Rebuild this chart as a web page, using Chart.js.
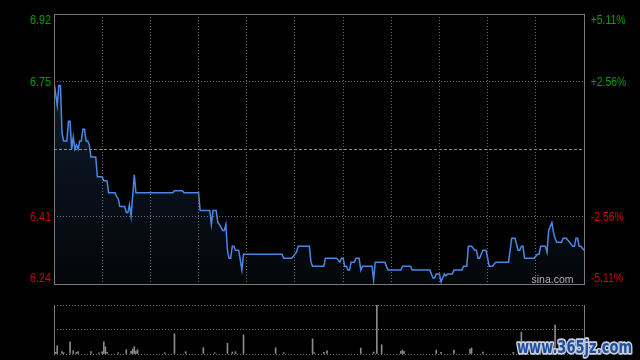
<!DOCTYPE html>
<html><head><meta charset="utf-8">
<script src="https://cdn.jsdelivr.net/npm/chart.js@4"></script>
<style>
html,body{margin:0;padding:0;background:#000;}
#wrap{position:relative;width:640px;height:360px;background:#000;overflow:hidden}
#c1{position:absolute;left:0;top:0}
#c2{position:absolute;left:0;top:300px}
</style></head><body>
<div id="wrap"><canvas id="c1" width="640" height="300"></canvas><canvas id="c2" width="640" height="60"></canvas></div>
<script>
// minutes since the open (HK session, 330 trading minutes) and price at each vertex
const minutes = [0,2,3,4,5,6,8,9,10,11,12,13,14,15,16,17,18,19,20,21,22,23,26,27,30,31,33,34,38,39,40,41,44,45,46,47,48,50,51,74,75,80,81,90,91,97,98,99,101,102,103,105,106,107,108,109,110,111,112,113,115,117,118,142,143,148,150,151,152,159,160,161,168,169,176,178,179,180,181,182,183,184,185,187,188,190,191,192,198,199,200,206,208,216,217,222,223,234,236,237,238,240,241,242,243,244,245,248,249,254,255,257,258,260,262,263,264,265,267,269,271,273,275,283,285,287,289,290,291,292,293,299,301,302,303,306,307,308,309,310,311,312,313,316,317,319,321,323,324,325,326,327,328,330];
const prices = [6.75,6.69,6.74,6.74,6.62,6.60,6.60,6.65,6.65,6.58,6.61,6.58,6.59,6.58,6.60,6.60,6.63,6.63,6.60,6.60,6.59,6.56,6.56,6.51,6.51,6.50,6.50,6.47,6.47,6.46,6.455,6.435,6.435,6.42,6.42,6.44,6.41,6.515,6.47,6.47,6.475,6.475,6.47,6.47,6.425,6.425,6.39,6.425,6.425,6.395,6.39,6.375,6.375,6.39,6.325,6.305,6.305,6.335,6.335,6.325,6.325,6.275,6.315,6.315,6.305,6.305,6.315,6.32,6.335,6.335,6.295,6.285,6.285,6.305,6.305,6.295,6.305,6.305,6.285,6.285,6.275,6.275,6.295,6.295,6.305,6.305,6.275,6.285,6.285,6.25,6.295,6.295,6.275,6.275,6.285,6.285,6.275,6.275,6.255,6.255,6.265,6.265,6.245,6.255,6.265,6.26,6.265,6.265,6.275,6.275,6.285,6.285,6.335,6.335,6.325,6.325,6.305,6.305,6.325,6.325,6.285,6.285,6.295,6.295,6.355,6.355,6.325,6.325,6.335,6.335,6.305,6.305,6.315,6.315,6.335,6.335,6.32,6.375,6.385,6.395,6.37,6.355,6.345,6.345,6.355,6.355,6.345,6.335,6.335,6.355,6.355,6.335,6.335,6.325];
// volume bars (thousand shares) at the minutes where they are visible
const volMinutes = [1,2,5,6,10,12,14,15,23,28,30,31,32,33,40,45,48,49,50,51,52,69,75,82,93,100,108,111,113,118,138,143,161,162,168,170,191,199,201,204,216,217,218,238,241,249,259,260,267,286,291,303,312,325];
const volumes = [34,168,47,26,250,67,34,47,47,26,47,250,148,34,26,87,55,101,148,55,87,26,412,47,128,26,217,41,47,391,128,26,310,26,34,67,122,41,1000,189,55,81,47,81,34,81,101,122,41,34,446,162,594,122];
const priceTicks = [6.92, 6.75, 6.58, 6.41, 6.24];
const pctLabels = ['+5.11%', '+2.56%', '', '-2.56%', '-5.11%'];
const prevClose = 6.58;
const sessionLength = 330;
const gridStep = 30;

const GRID = '#6c6c6c', FRAME = '#7a7a7a', UP = '#00a000', DOWN = '#d00000';
Chart.defaults.font.family = '"Liberation Sans", Arial, sans-serif';

const framePlugin = {
  id: 'frame',
  afterDatasetsDraw(chart) {
    const {ctx, chartArea: a} = chart;
    const y = chart.scales.y;
    ctx.save();
    // previous close line
    const pc = Math.round(y.getPixelForValue(prevClose)) + 0.5;
    ctx.strokeStyle = '#8a8a8a'; ctx.lineWidth = 1; ctx.setLineDash([3, 2]);
    ctx.beginPath(); ctx.moveTo(a.left, pc); ctx.lineTo(a.right, pc); ctx.stroke();
    ctx.setLineDash([]);
    ctx.strokeStyle = FRAME;
    ctx.strokeRect(a.left + 0.5, a.top + 0.5, a.right - a.left, a.bottom - a.top);
    // axis labels
    ctx.font = '12px "Liberation Sans", Arial, sans-serif';
    priceTicks.forEach((v, i) => {
      if (v === prevClose) return;
      const py = y.getPixelForValue(v);
      let by = py + 4.3;
      if (i === 0) by = py + 10;
      if (i === priceTicks.length - 1) by = py - 1.7;
      ctx.fillStyle = v > prevClose ? UP : DOWN;
      const t = v.toFixed(2);
      ctx.textAlign = 'right';
      ctx.fillText(t, a.left - 3, by, ctx.measureText(t).width * 0.9);
      ctx.textAlign = 'left';
      ctx.fillText(pctLabels[i], a.right + 6.7, by, ctx.measureText(pctLabels[i]).width * 0.87);
    });
    ctx.font = '11px "Liberation Sans", Arial, sans-serif';
    ctx.fillStyle = '#b0b0b0'; ctx.textAlign = 'right';
    ctx.fillText('sina.com', a.right - 10.5, a.bottom - 1, 42);
    ctx.restore();
  }
};

new Chart(document.getElementById('c1'), {
  type: 'line',
  data: { datasets: [{
    data: minutes.map((m, i) => ({x: m, y: prices[i]})),
    borderColor: '#4a88e6', borderWidth: 1.5, pointRadius: 0, tension: 0,
    fill: 'start',
    backgroundColor: (c) => {
      const a = c.chart.chartArea; if (!a) return 'rgba(0,0,0,0)';
      const g = c.chart.ctx.createLinearGradient(0, a.top, 0, a.bottom);
      g.addColorStop(0, 'rgba(19,33,57,1)');
      g.addColorStop(1, 'rgba(4,6,9,1)');
      return g;
    }
  }]},
  options: {
    responsive: false, animation: false, events: [],
    layout: { padding: { left: 54, right: 56, top: 14, bottom: 16 } },
    plugins: { legend: { display: false }, tooltip: { enabled: false } },
    scales: {
      x: { type: 'linear', min: 0, max: sessionLength,
        ticks: { display: false, stepSize: gridStep },
        grid: { z: 1, drawTicks: false, color: (c) => (c.tick && (c.tick.value === 0 || c.tick.value === sessionLength)) ? 'rgba(0,0,0,0)' : GRID },
        border: { display: false, dash: [1, 2] },
        afterFit: (s) => { s.height = 0; } },
      y: { min: priceTicks[priceTicks.length - 1], max: priceTicks[0],
        afterBuildTicks: (s) => { s.ticks = priceTicks.map(v => ({value: v})); },
        ticks: { display: false },
        grid: { z: 1, drawTicks: false, color: (c) => (c.tick && (c.tick.value === priceTicks[1] || c.tick.value === priceTicks[3])) ? GRID : 'rgba(0,0,0,0)' },
        border: { display: false, dash: [1, 2] },
        afterFit: (s) => { s.width = 0; } }
    }
  },
  plugins: [framePlugin]
});

const volMax = Math.max(...volumes);
const volPlugin = {
  id: 'volframe',
  afterDraw(chart) {
    const {ctx, chartArea: a} = chart;
    ctx.save();
    ctx.strokeStyle = FRAME; ctx.lineWidth = 1;
    ctx.beginPath();
    ctx.moveTo(a.left + 0.5, a.top); ctx.lineTo(a.left + 0.5, a.bottom + 1);
    ctx.moveTo(a.right + 0.5, a.top); ctx.lineTo(a.right + 0.5, a.bottom + 1);
    ctx.stroke();
    // watermark
    ctx.font = 'bold 17px "DejaVu Sans", sans-serif';
    ctx.textAlign = 'left'; ctx.textBaseline = 'alphabetic';
    ctx.lineJoin = 'round'; ctx.lineWidth = 3.5; ctx.strokeStyle = '#c9d0dc';
    ctx.strokeText('www.365jz.com', a.right - 67, a.bottom - 1, 115);
    ctx.fillStyle = '#1f4e9e';
    ctx.fillText('www.365jz.com', a.right - 67, a.bottom - 1, 115);
    ctx.restore();
  }
};

new Chart(document.getElementById('c2'), {
  type: 'bar',
  data: { datasets: [{
    data: volMinutes.map((m, i) => ({x: m, y: volumes[i]})),
    backgroundColor: '#8a8a8a', barThickness: 1, borderWidth: 0
  }]},
  options: {
    responsive: false, animation: false, events: [],
    layout: { padding: { left: 54, right: 56, top: 5, bottom: 6 } },
    plugins: { legend: { display: false }, tooltip: { enabled: false } },
    scales: {
      x: { type: 'linear', min: 0, max: sessionLength, offset: false,
        ticks: { display: false }, grid: { display: false, drawTicks: false },
        border: { display: false }, afterFit: (s) => { s.height = 0; } },
      y: { min: 0, max: volMax,
        afterBuildTicks: (s) => { s.ticks = [0, volMax / 2, volMax].map(v => ({value: v})); },
        ticks: { display: false },
        grid: { drawTicks: false, color: GRID },
        border: { display: false, dash: [1, 2] },
        afterFit: (s) => { s.width = 0; } }
    }
  },
  plugins: [volPlugin]
});
</script>
</body></html>
